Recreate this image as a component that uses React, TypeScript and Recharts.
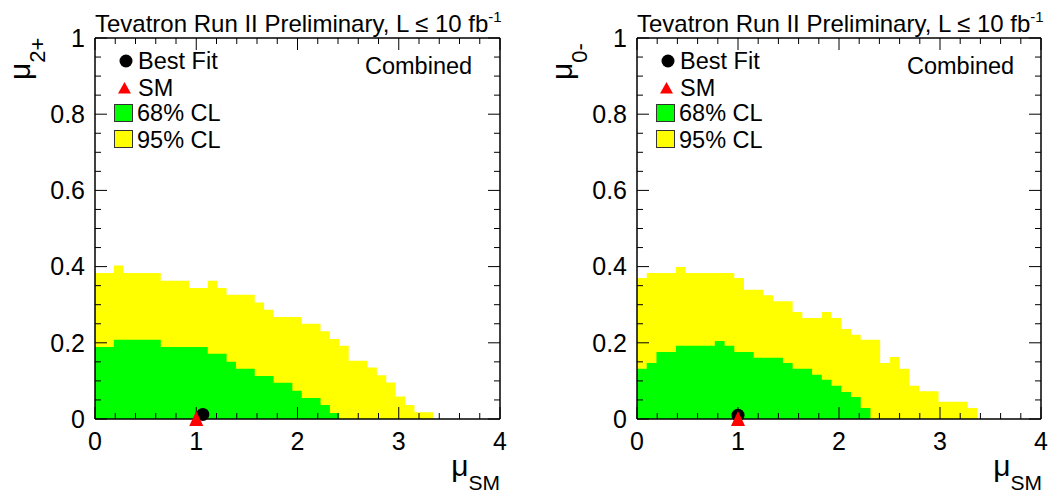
import { Area, ComposedChart, ReferenceLine, Scatter, XAxis, YAxis } from 'recharts'

const FONT = '"Liberation Sans", Arial, Helvetica, sans-serif'

// bin widths of the two likelihood scans (mu_SM)
const LEFT_BIN = 0.0928
const RIGHT_BIN = 0.0963

// mu_2+ panel, upper edge of each bin
const left95 = [
  0.383, 0.383, 0.403, 0.383, 0.383, 0.383, 0.383, 0.363, 0.363, 0.363, 0.344, 0.344,
  0.363, 0.344, 0.326, 0.326, 0.326, 0.306, 0.287, 0.268, 0.268, 0.268, 0.25, 0.25,
  0.23, 0.21, 0.192, 0.153, 0.153, 0.135, 0.115, 0.096, 0.059, 0.037, 0.018, 0.018,
]
const left68 = [
  0.189, 0.189, 0.208, 0.208, 0.208, 0.208, 0.208, 0.189, 0.189, 0.189, 0.189, 0.189,
  0.171, 0.171, 0.15, 0.132, 0.132, 0.113, 0.113, 0.095, 0.095, 0.074, 0.055, 0.055,
  0.037, 0.016, 0, 0, 0, 0, 0, 0, 0, 0, 0, 0,
]

// mu_0- panel
const right95 = [
  0.37, 0.383, 0.383, 0.383, 0.399, 0.383, 0.383, 0.383, 0.383, 0.383, 0.37, 0.339,
  0.339, 0.325, 0.309, 0.309, 0.281, 0.265, 0.265, 0.281, 0.265, 0.236, 0.221, 0.208,
  0.208, 0.147, 0.163, 0.132, 0.087, 0.073, 0.073, 0.045, 0.045, 0.045, 0.029,
]
const right68 = [
  0.132, 0.147, 0.176, 0.176, 0.192, 0.192, 0.192, 0.192, 0.205, 0.192, 0.176, 0.176,
  0.161, 0.161, 0.161, 0.147, 0.132, 0.132, 0.116, 0.103, 0.087, 0.071, 0.058, 0.029,
  0, 0, 0, 0, 0, 0, 0, 0, 0, 0, 0,
]

const leftBest = [{ x: 1.065, y: 0.012 }]
const rightBest = [{ x: 1.0, y: 0.01 }]
const smPoint = [{ x: 1, y: 0 }]

const xTicks = [0, 1, 2, 3, 4]
const yTicks = [0, 0.2, 0.4, 0.6, 0.8, 1]
const xMinor = Array.from({ length: 21 }, (_, i) => +(i * 0.2).toFixed(2))
const yMinor = Array.from({ length: 21 }, (_, i) => +(i * 0.05).toFixed(2))

function buildTable(bin: number, v95: number[], v68: number[]) {
  const rows = v95.map((v, i) => ({ x: i * bin, cl95: v, cl68: v68[i] }))
  rows.push({ x: v95.length * bin, cl95: 0, cl68: 0 })
  return rows
}

const Dot = (p: any) => <circle cx={p.cx} cy={p.cy} r={6.5} fill="#000" />
const Tri = (p: any) => (
  <polygon points={`${p.cx - 7},${p.cy + 7} ${p.cx + 7},${p.cy + 7} ${p.cx},${p.cy - 8}`} fill="#ff0000" />
)

function Panel({ bin, v95, v68, best, yAxisW, marginRight, pxPerX }: any) {
  const data = buildTable(bin, v95, v68)
  const plotH = 381
  return (
    <ComposedChart width={524} height={495} data={data} margin={{ top: 38, right: marginRight, bottom: 0, left: 0 }}>
      <XAxis
        dataKey="x"
        type="number"
        domain={[0, 4]}
        ticks={xTicks}
        height={76}
        tickLine={false}
        tickSize={0}
        tickMargin={13}
        axisLine={false}
        tick={{ fill: '#000', fontSize: 25, fontFamily: FONT }}
      />
      <YAxis
        dataKey="y"
        type="number"
        domain={[0, 1]}
        ticks={yTicks}
        width={yAxisW}
        tickLine={false}
        tickSize={0}
        tickMargin={10}
        axisLine={false}
        tick={{ fill: '#000', fontSize: 25, fontFamily: FONT }}
      />
      <Area type="stepAfter" dataKey="cl95" stroke="none" fill="#ffff00" fillOpacity={1} isAnimationActive={false} dot={false} activeDot={false} />
      <Area type="stepAfter" dataKey="cl68" stroke="none" fill="#00ff00" fillOpacity={1} isAnimationActive={false} dot={false} activeDot={false} />
      {xMinor.map((t) => {
        const len = (Number.isInteger(t) ? 12 : 6) / plotH
        return [
          <ReferenceLine key={`b${t}`} segment={[{ x: t, y: 0 }, { x: t, y: len }]} stroke="#000" strokeWidth={1} />,
          <ReferenceLine key={`t${t}`} segment={[{ x: t, y: 1 }, { x: t, y: 1 - len }]} stroke="#000" strokeWidth={1} />,
        ]
      })}
      {yMinor.map((t, i) => {
        const len = (i % 4 === 0 ? 12 : 6) / pxPerX
        return [
          <ReferenceLine key={`l${t}`} segment={[{ x: 0, y: t }, { x: len, y: t }]} stroke="#000" strokeWidth={1} />,
          <ReferenceLine key={`r${t}`} segment={[{ x: 4, y: t }, { x: 4 - len, y: t }]} stroke="#000" strokeWidth={1} />,
        ]
      })}
      <ReferenceLine y={0} stroke="#000" strokeWidth={1.5} />
      <ReferenceLine y={1} stroke="#000" strokeWidth={1.5} />
      <ReferenceLine x={0} stroke="#000" strokeWidth={1.5} />
      <ReferenceLine x={4} stroke="#000" strokeWidth={1.5} />
      <Scatter data={best} dataKey="y" shape={Dot} isAnimationActive={false} />
      <Scatter data={smPoint} dataKey="y" shape={Tri} isAnimationActive={false} />
    </ComposedChart>
  )
}

function Labels({ dx, sub }: { dx: number; sub: string }) {
  const t = { fontFamily: FONT, fill: '#000' }
  return (
    <g transform={`translate(${dx},0)`} {...t}>
      <text x={95} y={31.5} fontSize={24}>
        Tevatron Run II Preliminary, L ≤ 10 fb
        <tspan fontSize={15} dy={-10}>-1</tspan>
      </text>
      <text transform="translate(30,80) rotate(-90)" fontSize={30}>
        μ<tspan fontSize={22} dy={15}>{sub}</tspan>
      </text>
      <text x={500} y={476} fontSize={30} textAnchor="end">
        μ<tspan fontSize={21} dy={14}>SM</tspan>
      </text>
      <circle cx={126} cy={61} r={6.5} fill="#000" />
      <text x={138} y={69} fontSize={23.5}>Best Fit</text>
      <polygon points="118,93.5 131,93.5 124.5,82" fill="#ff0000" />
      <text x={138} y={96} fontSize={23.5}>SM</text>
      <rect x={114.5} y={104.5} width={18} height={17} fill="#00ff00" stroke="#333" strokeWidth={1} />
      <text x={137} y={121} fontSize={23.5}>68% CL</text>
      <rect x={114.5} y={130.5} width={18} height={17} fill="#ffff00" stroke="#333" strokeWidth={1} />
      <text x={137} y={148} fontSize={23.5}>95% CL</text>
      <text x={365} y={74} fontSize={23.5}>Combined</text>
    </g>
  )
}

export default function App() {
  return (
    <div style={{ position: 'absolute', left: 0, top: 0, width: 1048, height: 495, background: '#fff' }}>
      <div style={{ position: 'absolute', left: 0, top: 0 }}>
        <Panel bin={LEFT_BIN} v95={left95} v68={left68} best={leftBest} yAxisW={95} marginRight={24} pxPerX={101.25} />
      </div>
      <div style={{ position: 'absolute', left: 524, top: 0 }}>
        <Panel bin={RIGHT_BIN} v95={right95} v68={right68} best={rightBest} yAxisW={113} marginRight={7} pxPerX={101} />
      </div>
      <svg width={1048} height={495} style={{ position: 'absolute', left: 0, top: 0, pointerEvents: 'none' }}>
        <Labels dx={0} sub="2+" />
        <Labels dx={542} sub="0-" />
      </svg>
    </div>
  )
}
